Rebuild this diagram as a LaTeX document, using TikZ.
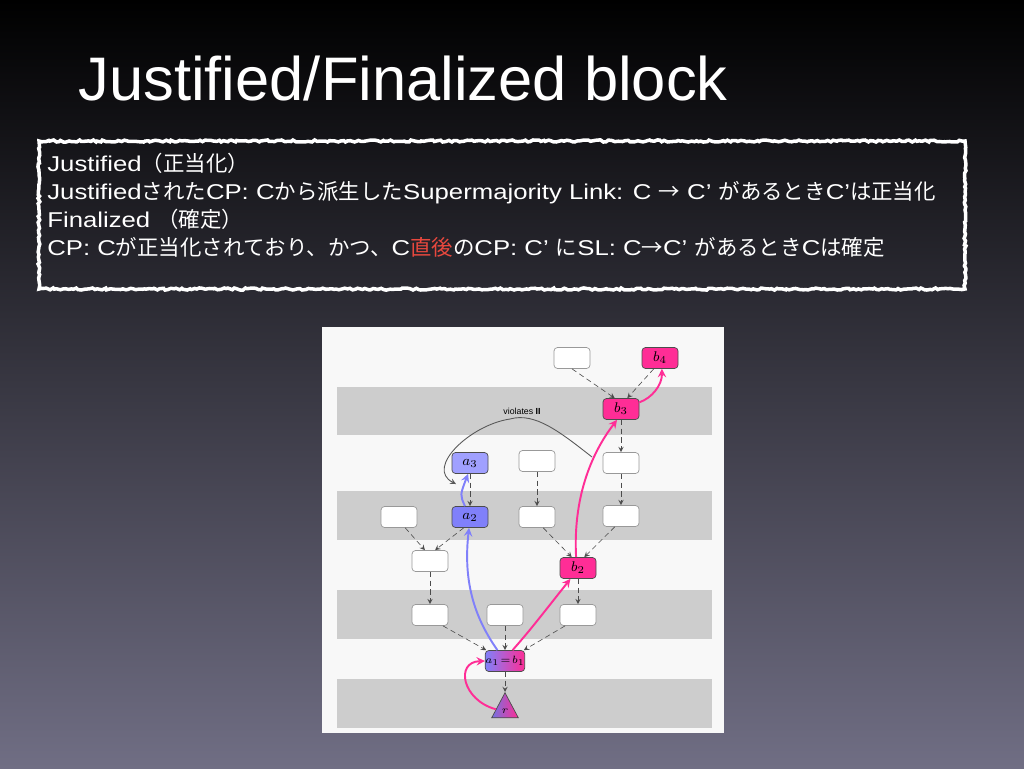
\documentclass[tikz,border=0pt]{standalone}
\usepackage{fontspec}
\setmainfont{Liberation Sans}
\newfontfamily\bodyfont{Liberation Sans}[FakeStretch=1.2]
\newfontfamily\jpfont{Noto Sans CJK JP}[Scale=1.0]
\newcommand{\jp}[1]{{\jpfont #1}}
\usepackage{amsmath}
\usetikzlibrary{shapes.geometric,decorations.pathmorphing}

\definecolor{sbpink}{RGB}{255,45,150}
\definecolor{sbblue}{RGB}{128,128,250}
\definecolor{lightblue}{RGB}{160,160,255}
\definecolor{bandgray}{RGB}{205,205,205}
\definecolor{panelwhite}{RGB}{248,248,248}
\definecolor{slatemid}{RGB}{30,30,64}
\definecolor{slatebot}{RGB}{112,110,132}
\definecolor{notered}{RGB}{232,72,62}

\begin{document}
\begin{tikzpicture}[x=0.02cm, y=-0.02cm,
		block/.style={draw=black!40, fill=white, rounded corners=2pt, minimum width=0.72cm, minimum height=0.42cm, inner sep=0pt, font=\fontsize{8}{9}\selectfont},
		ablock/.style={block, draw=black!70, fill=sbblue},
		bblock/.style={block, draw=black!70, fill=sbpink},
		parent/.style={densely dashed, ->, >=stealth, black!70, line width=0.35pt},
		link/.style={->, >=stealth, line width=1.1pt},
		jptext/.style={anchor=base west, text=white, inner sep=0pt, font=\bodyfont\fontsize{12.2}{14}\selectfont}]

			% slide background
			\shade[top color=black, middle color=slatemid, bottom color=slatebot] (0,0) rectangle (1024,768);
			\useasboundingbox (0,0) rectangle (1024,768);

			\node[anchor=base west, inner sep=0pt, text=white, font=\fontsize{35}{40}\selectfont] (title) at (78,100) {Justified/Finalized block};

			% definitions box
			\draw[white, line width=2pt, decorate, decoration={random steps, segment length=1.5pt, amplitude=0.6pt}] (39,141) rectangle (965,289);

			\node[jptext] (line1) at (47,171.5) {Justified\jp{（正当化）}};
			\node[jptext] (line2) at (47,199.5) {Justified\jp{された}CP: C\jp{から派生した}Supermajority Link: C \jp{→} C’ \jp{があるとき}C’\jp{は正当化}};
			\node[jptext] (line3) at (47,227) {Finalized \jp{（確定）}};
			\node[jptext] (line4) at (47,255) {CP: C\jp{が正当化されており、かつ、}C\jp{\textcolor{notered}{直後}の}CP: C’ \jp{に}SL: C\jp{→}C’ \jp{があるとき}C\jp{は確定}};

			% figure panel and epoch bands
			\fill[panelwhite] (322,327) rectangle (724,733);
			\fill[bandgray] (337,387) rectangle (712,435);
			\fill[bandgray] (337,491) rectangle (712,540);
			\fill[bandgray] (337,590) rectangle (712,639);
			\fill[bandgray] (337,679) rectangle (712,728);

			% top row
			\node[block] (t1) at (572,358) {};
			\node[bblock] (b4) at (660,358) {$b_4$};

			% first band
			\node[bblock] (b3) at (621,409) {$b_3$};

			% third row
			\node[ablock, fill=lightblue] (a3) at (470,463) {$a_3$};
			\node[block] (m1) at (537,461) {};
			\node[block] (m2) at (621,463) {};

			% second band
			\node[block] (c1) at (399,517) {};
			\node[ablock] (a2) at (470,517) {$a_2$};
			\node[block] (c2) at (537,517) {};
			\node[block] (c3) at (621,516) {};

			% fifth row
			\node[block] (d1) at (430,561) {};
			\node[bblock] (b2) at (578,568) {$b_2$};

			% third band
			\node[block] (e1) at (430,615) {};
			\node[block] (e2) at (505,615) {};
			\node[block] (e3) at (578,615) {};

			% common block and root
			\node[block, draw=black!70, left color=sbblue, right color=sbpink, font=\fontsize{6.5}{7}\selectfont] (a1) at (505,661) {$a_1\!=\!b_1$};
			\node[isosceles triangle, shape border rotate=90, isosceles triangle apex angle=56, minimum height=0.5cm, inner sep=0pt, draw=black!70, left color=sbblue!90!black, right color=sbpink, font=\fontsize{6}{7}\selectfont, anchor=apex] (r) at (505,692) {$r$};

			% parent edges
			\draw[parent] (t1.south) -- (b3.120);
			\draw[parent] (b4.240) -- (b3.60);
			\draw[parent] (b3) -- (m2);
			\draw[parent] (a3) -- (a2);
			\draw[parent] (m1) -- (c2);
			\draw[parent] (m2) -- (c3);
			\draw[parent] (c1.300) -- (d1.115);
			\draw[parent] (a2.240) -- (d1.65);
			\draw[parent] (c2.300) -- (b2.120);
			\draw[parent] (c3.240) -- (b2.60);
			\draw[parent] (d1) -- (e1);
			\draw[parent] (b2) -- (e3);
			\draw[parent] (e1.320) -- (a1.150);
			\draw[parent] (e2) -- (a1);
			\draw[parent] (e3.220) -- (a1.30);
			\draw[parent] (a1) -- (r.apex);

			% supermajority links
			\draw[link, sbblue] (a1.125) .. controls (480,625) and (462,590) .. (a2.265);
			\draw[link, sbblue] (a2.115) .. controls (460,495) .. (a3.260);
			\draw[link, sbpink] (a1.55) .. controls (530,630) .. (b2.235);
			\draw[link, sbpink] (b2.100) .. controls (573,500) and (590,455) .. (b3.250);
			\draw[link, sbpink] (b3.20) .. controls (652,398) and (662,385) .. (b4.280);
			\draw[link, sbpink] (r.170) .. controls (462,700) and (455,662) .. (a1.west);

			% violated condition
			\coordinate (vs) at (592,457);
			\coordinate (ve) at (456,484);
			\draw[->, >=stealth, black!65, line width=0.5pt] (vs) .. controls (560,432) and (535,412) .. (510,419) .. controls (470,425) and (425,468) .. (ve);
			\node[font=\fontsize{5}{6}\selectfont] (viol) at (522,411) {violates $\mathbf{II}$};

		\end{tikzpicture}
\end{document}
